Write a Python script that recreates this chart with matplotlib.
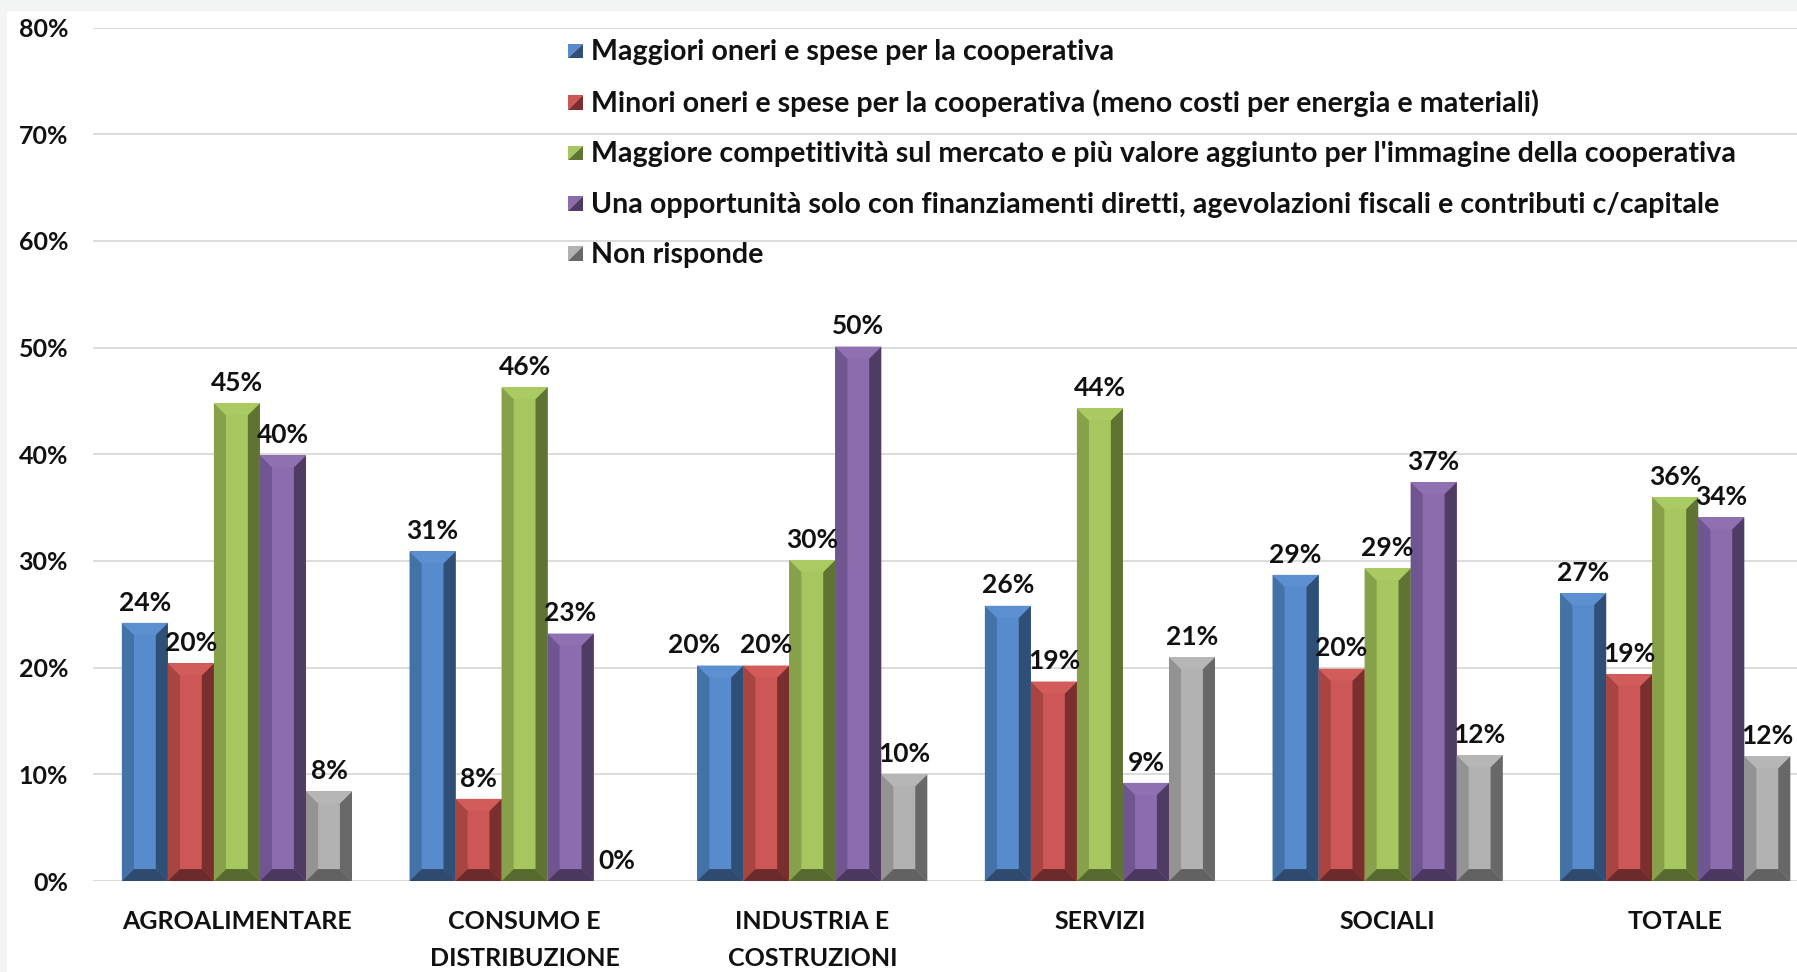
import matplotlib
matplotlib.use("Agg")
import matplotlib.pyplot as plt
import numpy as np
from matplotlib.patches import Polygon, Rectangle
from matplotlib.legend_handler import HandlerBase

plt.rcParams['font.family'] = ['Lato', 'DejaVu Sans']

categories = ["AGROALIMENTARE", "CONSUMO E\nDISTRIBUZIONE", "INDUSTRIA E\nCOSTRUZIONI",
              "SERVIZI", "SOCIALI", "TOTALE"]
series_names = [
    "Maggiori oneri e spese per la cooperativa",
    "Minori oneri e spese per la cooperativa (meno costi per energia e materiali)",
    "Maggiore competitività sul mercato e più valore aggiunto per l'immagine della cooperativa",
    "Una opportunità solo con finanziamenti diretti, agevolazioni fiscali e contributi c/capitale",
    "Non risponde",
]
maggiori = [24.2, 30.9, 20.2, 25.8, 28.7, 27.0]
minori = [20.4, 7.7, 20.2, 18.7, 19.9, 19.4]
competitivita = [44.8, 46.3, 30.1, 44.3, 29.3, 36.0]
opportunita = [39.9, 23.2, 50.1, 9.2, 37.4, 34.1]
non_risponde = [8.4, 0.0, 10.0, 21.0, 11.8, 11.7]
series = [maggiori, minori, competitivita, opportunita, non_risponde]
yticks = [0, 10, 20, 30, 40, 50, 60, 70, 80]

# face, left, right, top, bottom
palette = [
    ("#588BCB", "#4472A7", "#304F77", "#5C90D1", "#2E4A6E"),
    ("#CD5756", "#A84442", "#7A2E2E", "#D15C5A", "#6C2A2A"),
    ("#A6C65F", "#87A14A", "#5F7433", "#AACA63", "#56692F"),
    ("#8B6DAD", "#6F5690", "#4F3B63", "#8F71B1", "#4A3860"),
    ("#B2B2B2", "#939393", "#686868", "#B6B6B6", "#626262"),
]


class Key:
    def __init__(self, light, dark):
        self.light = light
        self.dark = dark


class KeyHandler(HandlerBase):
    def create_artists(self, legend, h, xd, yd, w, ht, fs, trans):
        x0, y0 = -xd, -yd
        s = min(w, ht)
        a = Polygon([[x0, y0], [x0, y0 + s], [x0 + s, y0 + s]], closed=True,
                    facecolor=h.light, edgecolor='none', transform=trans)
        b = Polygon([[x0, y0], [x0 + s, y0], [x0 + s, y0 + s]], closed=True,
                    facecolor=h.dark, edgecolor='none', transform=trans)
        return [a, b]


fig = plt.figure(figsize=(17.97, 9.72), dpi=100)
fig.patch.set_facecolor("#F3F5F5")
fig.add_artist(Rectangle((7 / 1797, 0), 1, 1 - 11 / 972, transform=fig.transFigure,
                         facecolor="white", edgecolor="none", zorder=0))

ax = fig.add_axes([0.0518, 0.0936, 0.9605, 0.878])
ax.set_facecolor("none")

n = len(series)
w = 0.16
x = np.arange(len(categories))
bx = 0.042   # bevel in data x
by = 1.12    # bevel in data y

labels = [[None] * n for _ in categories]
for i, vals in enumerate(series):
    face, left, right, top, bottom = palette[i]
    pos = x + (i - (n - 1) / 2) * w
    bars = ax.bar(pos, vals, w, color=face, zorder=3, linewidth=0)
    for j, (b, v) in enumerate(zip(bars, vals)):
        if v > 0:
            l = b.get_x()
            r = l + b.get_width()
            hgt = b.get_height()
            ey = min(by, hgt / 2)
            ex = bx
            ax.add_patch(Polygon([[l, 0], [l + ex, ey], [l + ex, hgt - ey], [l, hgt]],
                                 facecolor=left, edgecolor='none', zorder=4))
            ax.add_patch(Polygon([[r, 0], [r, hgt], [r - ex, hgt - ey], [r - ex, ey]],
                                 facecolor=right, edgecolor='none', zorder=4))
            ax.add_patch(Polygon([[l, hgt], [r, hgt], [r - ex, hgt - ey], [l + ex, hgt - ey]],
                                 facecolor=top, edgecolor='none', zorder=4))
            ax.add_patch(Polygon([[l, 0], [r, 0], [r - ex, ey], [l + ex, ey]],
                                 facecolor=bottom, edgecolor='none', zorder=4))
        labels[j][i] = ax.annotate(f"{round(v):.0f}%", (b.get_x() + b.get_width() / 2, v),
                                   xytext=(0, 6), textcoords="offset points", ha="center",
                                   va="bottom", fontsize=19, fontweight="bold",
                                   color="#111111", zorder=6, annotation_clip=False)

ax.set_xlim(-0.5, len(categories) - 0.5)
ax.set_ylim(0, 80)
ax.set_yticks(yticks)
ax.set_yticklabels([f"{t}%" for t in yticks], fontsize=18, fontweight="bold", color="#111111")
ax.set_xticks(x)
ax.set_xticklabels(categories, fontsize=18, fontweight="bold", color="#111111", linespacing=1.75)
ax.tick_params(axis="both", length=0)
ax.tick_params(axis="y", pad=18)
ax.tick_params(axis="x", pad=21)
ax.grid(axis="y", color="#D9D9D9", linewidth=1.3, zorder=0)
ax.set_axisbelow(True)
for sp in ax.spines.values():
    sp.set_visible(False)

handles = [Key(palette[i][0], palette[i][2]) for i in range(n)]
leg = ax.legend(handles, series_names, handler_map={Key: KeyHandler()},
                loc="upper left", bbox_to_anchor=(568 / 1797, 1 - 39 / 972),
                bbox_transform=fig.transFigure, frameon=False,
                prop={'size': 20.6, 'weight': 'bold'},
                handlelength=0.51, handleheight=0.51, handletextpad=0.28,
                labelspacing=0.85, borderpad=0, borderaxespad=0)
for t in leg.get_texts():
    t.set_color("#111111")

# push a label to the left when it sits level with its right neighbour and collides
fig.canvas.draw()
rend = fig.canvas.get_renderer()
for row in labels:
    for k in range(n - 2, -1, -1):
        a, b2 = row[k], row[k + 1]
        ba = a.get_window_extent(rend)
        bb = b2.get_window_extent(rend)
        if ba.overlaps(bb) and abs(ba.y0 - bb.y0) < 8:
            shift = ba.x1 - bb.x0 + 20
            ox, oy = a.xyann
            a.xyann = (ox - shift * 72 / fig.dpi, oy)

fig.savefig("out.png", dpi=100, facecolor=fig.get_facecolor())
